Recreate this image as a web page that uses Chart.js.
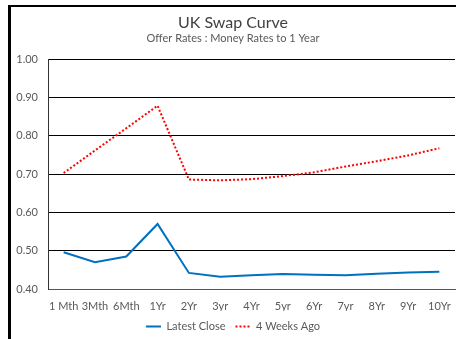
<!DOCTYPE html>
<html>
<head>
<meta charset="utf-8">
<script src="https://cdn.jsdelivr.net/npm/chart.js@4"></script>
<style>
    html, body { margin: 0; background: #fff; overflow: hidden; }
    #frame {
        position: absolute;
        left: 8px;
        top: 5px;
        width: 452px;
        height: 335px;
        border-top: 2px solid #000;
        border-left: 3px solid #000;
    }
    #frame canvas { display: block; }
</style>
</head>
<body>
<div id="frame">
    <canvas id="swap-chart" width="452" height="335"></canvas>
</div>
<script>
// tenors on the curve
const tenors = ['1 Mth', '3Mth', '6Mth', '1Yr', '2Yr', '3yr', '4Yr', '5yr', '6Yr', '7yr', '8Yr', '9Yr', '10Yr'];

// rates
const latestClose = [0.496, 0.470, 0.485, 0.570, 0.442, 0.432, 0.436, 0.439, 0.437, 0.436, 0.440, 0.443, 0.445];
const fourWeeksAgo = [0.703, 0.762, 0.820, 0.879, 0.686, 0.684, 0.687, 0.695, 0.705, 0.720, 0.734, 0.749, 0.768];

const yTicks = [0.40, 0.50, 0.60, 0.70, 0.80, 0.90, 1.00];

Chart.defaults.font.family = 'Lato, "Open Sans", sans-serif';
Chart.defaults.color = '#595959';

const ctx = document.getElementById('swap-chart').getContext('2d');
const swapChart = new Chart(ctx, {
    type: 'line',
    data: {
        labels: tenors,
        datasets: [{
            label: 'Latest Close',
            data: latestClose,
            borderColor: '#0070C0',
            backgroundColor: '#0070C0',
            borderWidth: 2,
            pointRadius: 0,
            tension: 0
        }, {
            label: '4 Weeks Ago',
            data: fourWeeksAgo,
            borderColor: '#FF0000',
            backgroundColor: '#FF0000',
            borderWidth: 2,
            borderDash: [2, 2],
            pointRadius: 0,
            tension: 0
        }]
    },
    options: {
        responsive: false,
        animation: false,
        layout: {
            padding: { left: 0, right: 8, top: 0, bottom: 0 }
        },
        scales: {
            x: {
                offset: true,
                afterFit: (axis) => {
                    axis.height = 22;
                },
                grid: { display: false, drawTicks: false },
                border: { display: true, color: '#555' },
                ticks: { padding: 11, font: { size: 11 }, maxRotation: 0, autoSkip: false }
            },
            y: {
                min: 0.4,
                max: 1.0,
                afterBuildTicks: (axis) => {
                    axis.ticks = yTicks.map(v => ({ value: v }));
                },
                afterFit: (axis) => {
                    axis.width = 37;
                },
                grid: { color: '#000', lineWidth: 1, drawTicks: false },
                border: { display: true, color: '#333' },
                ticks: {
                    padding: 10,
                    font: { size: 11 },
                    callback: (value) => value.toFixed(2)
                }
            }
        },
        plugins: {
            title: {
                display: true,
                text: 'UK Swap Curve',
                color: '#404040',
                font: { size: 16, weight: 'normal' },
                padding: { top: 6, bottom: 0 }
            },
            subtitle: {
                display: true,
                text: 'Offer Rates : Money Rates to 1 Year',
                color: '#595959',
                font: { size: 11 },
                padding: { top: 0, bottom: 14 }
            },
            legend: {
                display: true,
                position: 'bottom',
                labels: {
                    usePointStyle: true,
                    pointStyle: 'line',
                    pointStyleWidth: 15,
                    color: '#595959',
                    font: { size: 11 },
                    padding: 10,
                    generateLabels: (chart) => {
                        let items = Chart.defaults.plugins.legend.labels.generateLabels(chart);
                        items.forEach((item, i) => {
                            item.lineDash = chart.data.datasets[i].borderDash || [];
                            item.lineWidth = 2;
                            item.pointStyle = 'line';
                        });
                        return items;
                    }
                }
            },
            tooltip: { enabled: false }
        }
    }
});
</script>
</body>
</html>
